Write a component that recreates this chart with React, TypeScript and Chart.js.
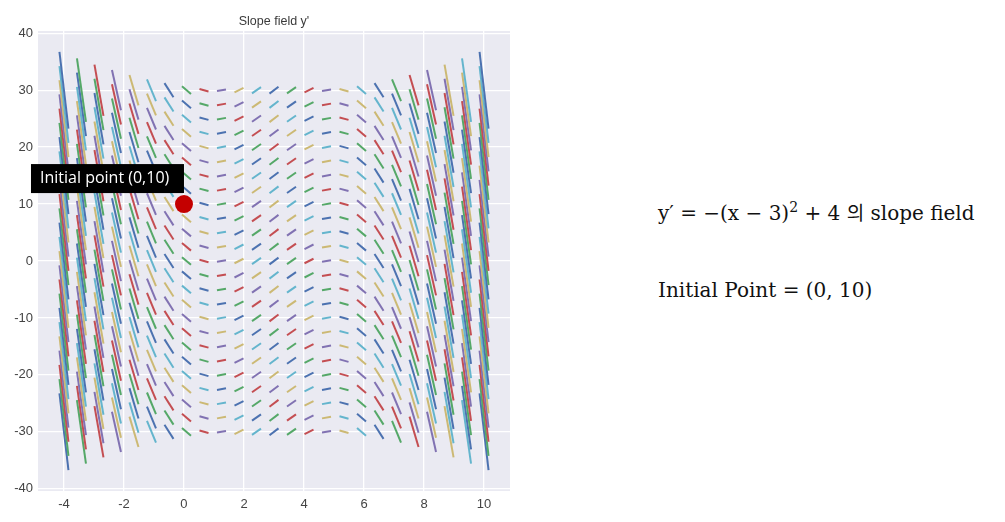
import React, { useEffect, useRef } from "react";
import { Chart, registerables } from "chart.js";

Chart.register(...registerables);

// Grid of sample points (x columns, y rows)
const xGrid = [
  -4, -3.4167, -2.8333, -2.25, -1.6667, -1.0833, -0.5, 0.0833, 0.6667, 1.25,
  1.8333, 2.4167, 3.0, 3.5833, 4.1667, 4.75, 5.3333, 5.9167, 6.5, 7.0833,
  7.6667, 8.25, 8.8333, 9.4167, 10,
];
const yGrid = [
  -30, -27.5, -25, -22.5, -20, -17.5, -15, -12.5, -10, -7.5, -5, -2.5, 0, 2.5,
  5, 7.5, 10, 12.5, 15, 17.5, 20, 22.5, 25, 27.5, 30,
];
// slope y' for each column
const slopes = [
  -45, -37.174, -30.028, -23.5625, -17.778, -12.674, -8.25, -4.507, -1.444,
  0.9375, 2.639, 3.66, 4, 3.66, 2.639, 0.9375, -1.444, -4.507, -8.25, -12.674,
  -17.778, -23.5625, -30.028, -37.174, -45,
];
const initialPoint = [{ x: 0, y: 10 }];
const xTicks = [-4, -2, 0, 2, 4, 6, 8, 10];
const yTicks = [-40, -30, -20, -10, 0, 10, 20, 30, 40];
const palette = ["#4C72B0", "#55A868", "#C44E52", "#8172B2", "#CCB974", "#64B5CD"];

const HALF_DX = 0.15;

export default function App() {
  const ref = useRef<HTMLCanvasElement | null>(null);

  useEffect(() => {
    if (!ref.current) return;
    const datasets: any[] = [];
    xGrid.forEach((x, i) => {
      const s = slopes[i];
      yGrid.forEach((y, j) => {
        const idx = i * yGrid.length + j;
        datasets.push({
          type: "line",
          data: [
            { x: x - HALF_DX, y: y - s * HALF_DX },
            { x: x + HALF_DX, y: y + s * HALF_DX },
          ],
          borderColor: palette[idx % palette.length],
          borderWidth: 2,
          pointRadius: 0,
          fill: false,
          order: -idx,
        });
      });
    });
    datasets.push({
      type: "scatter",
      data: initialPoint,
      pointRadius: 9,
      pointBackgroundColor: "#C40000",
      pointBorderWidth: 0,
      order: -100000,
    });

    const bgPlugin = {
      id: "bg",
      beforeDraw(chart: any) {
        const { ctx, chartArea } = chart;
        ctx.save();
        ctx.fillStyle = "#EAEAF2";
        ctx.fillRect(chartArea.left, chartArea.top, chartArea.right - chartArea.left, chartArea.bottom - chartArea.top);
        ctx.restore();
      },
    };
    const overlayPlugin = {
      id: "overlay",
      afterDraw(chart: any) {
        const { ctx, chartArea, scales } = chart;
        ctx.save();
        // title
        ctx.fillStyle = "#3a3a3a";
        ctx.font = '12.5px "Liberation Sans", Arial, sans-serif';
        ctx.textAlign = "center";
        ctx.textBaseline = "middle";
        ctx.fillText("Slope field y'", (chartArea.left + chartArea.right) / 2, 22);
        // annotation label
        const px = scales.x.getPixelForValue(initialPoint[0].x);
        const py = scales.y.getPixelForValue(initialPoint[0].y);
        const right = px;
        const bottom = py - 11;
        const left = px - 153;
        const top = py - 40;
        ctx.fillStyle = "#000000";
        ctx.fillRect(left, top, right - left, bottom - top);
        ctx.fillStyle = "#FFFFFF";
        ctx.font = '16px "Open Sans", sans-serif';
        ctx.textAlign = "left";
        ctx.fillText("Initial point (0,10)", left + 9, (top + bottom) / 2);
        ctx.restore();
      },
    };

    const tickFont = { family: '"Liberation Sans", Arial, sans-serif', size: 13 };
    const chart = new Chart(ref.current, {
      type: "line",
      data: { datasets },
      options: {
        animation: false,
        responsive: false,
        events: [],
        layout: { padding: { left: 0, right: 20, top: 31, bottom: 0 } },
        plugins: { legend: { display: false }, tooltip: { enabled: false }, title: { display: false } },
        scales: {
          x: {
            type: "linear",
            min: -4.865,
            max: 10.865,
            afterBuildTicks: (scale: any) => {
              scale.ticks = xTicks.map((v) => ({ value: v }));
            },
            afterFit: (scale: any) => {
              scale.height = 31;
            },
            grid: { color: "#FFFFFF", lineWidth: 1.3, drawTicks: false },
            border: { display: false },
            ticks: { color: "#444444", font: tickFont, padding: 6, maxRotation: 0, autoSkip: false },
          },
          y: {
            type: "linear",
            min: -40.4,
            max: 40.4,
            afterBuildTicks: (scale: any) => {
              scale.ticks = yTicks.map((v) => ({ value: v }));
            },
            afterFit: (scale: any) => {
              scale.width = 38;
            },
            grid: { color: "#FFFFFF", lineWidth: 1.3, drawTicks: false },
            border: { display: false },
            ticks: { color: "#444444", font: tickFont, padding: 5, autoSkip: false },
          },
        },
      },
      plugins: [bgPlugin, overlayPlugin],
    } as any);
    return () => chart.destroy();
  }, []);

  const textStyle: React.CSSProperties = {
    position: "absolute",
    left: 658,
    fontFamily: '"DejaVu Serif", "Liberation Serif", "Noto Sans CJK KR", serif',
    fontSize: 20,
    color: "#111111",
    whiteSpace: "nowrap",
    lineHeight: "26px",
    margin: 0,
  };

  return (
    <div style={{ position: "fixed", left: 0, top: 0, width: 1005, height: 522, background: "#FFFFFF", overflow: "hidden" }}>
      <canvas ref={ref} width={530} height={522} style={{ position: "absolute", left: 0, top: 0 }} />
      <div style={{ ...textStyle, top: 199 }}>
        y′ = −(x − 3)<sup style={{ fontSize: 14, lineHeight: 0 }}>2</sup> + 4 <span style={{ fontFamily: '"Noto Sans CJK KR", sans-serif', fontSize: 19 }}>의</span> slope field
      </div>
      <div style={{ ...textStyle, top: 277 }}>Initial Point = (0, 10)</div>
    </div>
  );
}
